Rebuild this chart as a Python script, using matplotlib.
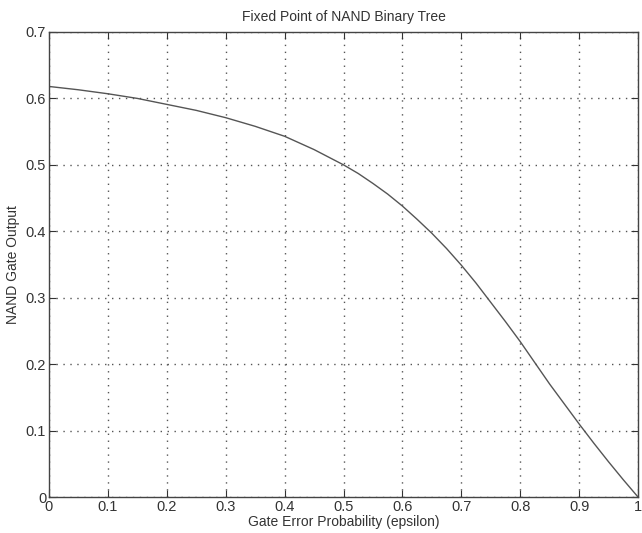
import matplotlib.pyplot as plt

# values
epsilon = [0.0, 0.05, 0.1, 0.15, 0.2, 0.25, 0.3, 0.35, 0.4, 0.45, 0.5,
           0.525, 0.55, 0.575, 0.6, 0.625, 0.65, 0.675, 0.7, 0.725, 0.75,
           0.775, 0.8, 0.825, 0.85, 0.875, 0.9, 0.925, 0.95, 0.975, 1.0]
output = [0.618, 0.613, 0.607, 0.600, 0.591, 0.582, 0.571, 0.558, 0.543, 0.523, 0.500,
          0.487, 0.472, 0.456, 0.438, 0.418, 0.397, 0.374, 0.349, 0.322, 0.293,
          0.264, 0.234, 0.202, 0.170, 0.140, 0.110, 0.081, 0.053, 0.026, 0.0]
xticks = [0, 0.1, 0.2, 0.3, 0.4, 0.5, 0.6, 0.7, 0.8, 0.9, 1]
xticklabels = ['0', '0.1', '0.2', '0.3', '0.4', '0.5', '0.6', '0.7', '0.8', '0.9', '1']
yticks = [0, 0.1, 0.2, 0.3, 0.4, 0.5, 0.6, 0.7]
yticklabels = ['0', '0.1', '0.2', '0.3', '0.4', '0.5', '0.6', '0.7']

plt.rcParams['font.family'] = ['Liberation Sans Narrow', 'Liberation Sans', 'DejaVu Sans']

fig = plt.figure(figsize=(6.42, 5.33), dpi=100)
ax = fig.add_axes([0.0763, 0.0675, 0.9175, 0.8725])

ax.plot(epsilon, output, color='#555555', lw=1.0)

ax.set_xlim(0, 1)
ax.set_ylim(0, 0.7)
ax.set_xticks(xticks)
ax.set_xticklabels(xticklabels)
ax.set_yticks(yticks)
ax.set_yticklabels(yticklabels)
ax.tick_params(direction='in', top=True, right=True, length=5, width=0.8,
               labelsize=10.5, colors='#333333', pad=2)
ax.grid(True, linestyle=(0, (1, 4)), color='#555555', lw=1.0)
for s in ax.spines.values():
    s.set_linewidth(1.0)
    s.set_color('#444444')

ax.set_title('Fixed Point of NAND Binary Tree', fontsize=10, color='#333333', pad=8)
ax.set_xlabel('Gate Error Probability (epsilon)', fontsize=10, color='#333333', labelpad=1)
ax.set_ylabel('NAND Gate Output', fontsize=10, color='#333333', labelpad=4)

fig.savefig('out.png', dpi=100)
